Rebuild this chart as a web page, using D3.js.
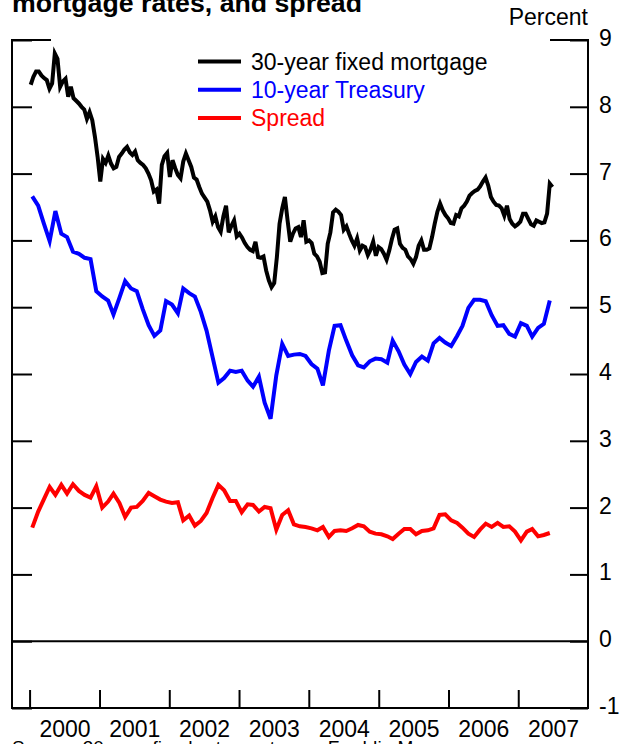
<!DOCTYPE html>
<html>
<head>
<meta charset="utf-8">
<script src="https://cdn.jsdelivr.net/npm/d3@7"></script>
<style>
  body { margin: 0; background: #fff; }
  svg { display: block; font-family: "Liberation Sans", Arial, sans-serif; }
</style>
</head>
<body>
<svg id="chart" width="630" height="744"></svg>
<script>
// 30-year fixed mortgage, every two weeks from 2000-01-07
const mortgage_start = '2000-01-07'
const mortgage = [
  8.33, 8.45, 8.53, 8.53, 8.47, 8.43, 8.40, 8.27, 8.35, 8.80, 8.72, 8.30, 8.38, 8.42, 8.15, 8.30,
  8.13, 8.09, 8.05, 8.00, 7.96, 7.82, 7.92, 7.80, 7.55, 7.25, 6.88, 7.22, 7.16, 7.27, 7.15, 7.08,
  7.10, 7.25, 7.30, 7.36, 7.40, 7.32, 7.28, 7.33, 7.20, 7.16, 7.13, 7.08, 7.00, 6.90, 6.73, 6.76,
  6.55, 7.13, 7.26, 7.31, 6.95, 7.20, 7.08, 6.98, 6.93, 7.18, 7.30, 7.20, 7.10, 6.94, 6.91, 6.80,
  6.70, 6.64, 6.58, 6.45, 6.28, 6.36, 6.20, 6.13, 6.36, 6.52, 6.12, 6.22, 6.30, 6.06, 6.10, 6.04,
  5.96, 5.90, 5.86, 5.84, 5.98, 5.75, 5.74, 5.76, 5.55, 5.40, 5.30, 5.36, 5.75, 6.25, 6.48, 6.65,
  6.30, 5.98, 6.10, 6.18, 6.20, 6.05, 6.30, 5.98, 6.00, 5.96, 5.80, 5.76, 5.68, 5.51, 5.52, 5.95,
  6.12, 6.42, 6.46, 6.43, 6.38, 6.16, 6.21, 6.10, 6.00, 5.92, 6.03, 5.85, 5.92, 5.90, 5.78, 5.86,
  5.98, 5.77, 5.90, 5.87, 5.80, 5.71, 5.85, 6.02, 6.16, 6.18, 5.95, 5.89, 5.86, 5.76, 5.72, 5.65,
  5.75, 5.92, 6.00, 5.86, 5.86, 5.88, 6.05, 6.25, 6.43, 6.55, 6.45, 6.38, 6.33, 6.26, 6.25, 6.38,
  6.36, 6.48, 6.52, 6.58, 6.67, 6.71, 6.74, 6.76, 6.81, 6.88, 6.94, 6.82, 6.65, 6.58, 6.53, 6.52,
  6.48, 6.37, 6.52, 6.32, 6.25, 6.21, 6.24, 6.28, 6.40, 6.40, 6.32, 6.24, 6.22, 6.30, 6.28, 6.26,
  6.27, 6.40, 6.85, 6.80
]

// monthly, Jan 2000 - Jun 2007
const treasury = [
  6.66, 6.52, 6.26, 5.99, 6.44, 6.10, 6.05, 5.83, 5.80, 5.74, 5.72, 5.24,
  5.16, 5.10, 4.89, 5.14, 5.39, 5.28, 5.24, 4.97, 4.73, 4.57, 4.65, 5.09,
  5.04, 4.91, 5.28, 5.21, 5.16, 4.93, 4.65, 4.26, 3.87, 3.94, 4.05, 4.03,
  4.05, 3.90, 3.81, 3.96, 3.57, 3.33, 3.98, 4.45, 4.27, 4.29, 4.30, 4.27,
  4.15, 4.08, 3.83, 4.35, 4.72, 4.73, 4.50, 4.28, 4.13, 4.10, 4.19, 4.23,
  4.22, 4.17, 4.50, 4.34, 4.14, 4.00, 4.18, 4.26, 4.20, 4.46, 4.54, 4.47,
  4.42, 4.57, 4.72, 4.99, 5.11, 5.11, 5.09, 4.88, 4.72, 4.73, 4.60, 4.56,
  4.76, 4.72, 4.56, 4.69, 4.75, 5.10
]

const spread = [
  1.70, 1.94, 2.12, 2.31, 2.19, 2.34, 2.21, 2.35, 2.25, 2.19, 2.15, 2.32,
  2.00, 2.09, 2.21, 2.07, 1.86, 2.00, 2.01, 2.10, 2.22, 2.17, 2.12, 2.09,
  2.07, 2.08, 1.81, 1.88, 1.73, 1.80, 1.92, 2.14, 2.34, 2.26, 2.10, 2.10,
  1.93, 2.05, 2.04, 1.94, 2.01, 1.99, 1.67, 1.89, 1.96, 1.75, 1.72, 1.71,
  1.69, 1.66, 1.71, 1.56, 1.65, 1.66, 1.65, 1.69, 1.74, 1.72, 1.64, 1.61,
  1.60, 1.57, 1.53, 1.61, 1.68, 1.68, 1.60, 1.65, 1.66, 1.69, 1.89, 1.90,
  1.81, 1.77, 1.70, 1.61, 1.56, 1.67, 1.76, 1.71, 1.77, 1.71, 1.72, 1.64,
  1.51, 1.64, 1.68, 1.57, 1.59, 1.62
]

const years = [2000, 2001, 2002, 2003, 2004, 2005, 2006, 2007]
const y_ticks = [-1, 0, 1, 2, 3, 4, 5, 6, 7, 8, 9]
const legend_items = [
  { name: '30-year fixed mortgage', color: '#000000' },
  { name: '10-year Treasury', color: '#0000ff' },
  { name: 'Spread', color: '#ff0000' }
]

const svg = d3.select('#chart')
const x0 = 12, x1 = 588, y0 = 40, y1 = 708
const fs = 23

const x = d3.scaleTime()
  .domain([new Date(1999, 9, 1), new Date(2008, 0, 1)])
  .range([x0, x1])
const y = d3.scaleLinear().domain([-1, 9]).range([y1, y0])

const start = d3.timeParse('%Y-%m-%d')(mortgage_start)
const mortgage_data = mortgage.map((v, i) => ({ d: d3.timeDay.offset(start, i * 14), v }))
const month_date = i => new Date(2000, i, 15)
const treasury_data = treasury.map((v, i) => ({ d: month_date(i), v }))
const spread_data = spread.map((v, i) => ({ d: month_date(i), v }))

// title and units, cut at the top of the picture
svg.append('text')
  .attr('x', 12).attr('y', 12)
  .attr('font-size', 26.7).attr('font-weight', 'bold')
  .text('mortgage rates, and spread')

svg.append('text')
  .attr('x', x1).attr('y', 25)
  .attr('text-anchor', 'end').attr('font-size', fs)
  .text('Percent')

// frame
const frame = svg.append('g').attr('stroke', '#000').attr('stroke-width', 2).attr('fill', 'none')
frame.append('path').attr('d', `M${x0 + 39},${y0}H${x0}V${y1}H${x1}V${y0}H${x1 - 38}`)
frame.append('line')
  .attr('x1', x0).attr('x2', x1)
  .attr('y1', y(0)).attr('y2', y(0))

// left ticks, no labels
svg.append('g')
  .attr('transform', `translate(${x0},0)`)
  .call(d3.axisLeft(y).tickValues(y_ticks).tickSizeInner(-20).tickSizeOuter(0).tickFormat(''))
  .call(g => g.select('.domain').remove())
  .call(g => g.selectAll('line').attr('stroke-width', 2))

// right ticks with labels
svg.append('g')
  .attr('transform', `translate(${x1},0)`)
  .call(d3.axisRight(y).tickValues(y_ticks).tickSizeInner(-18).tickSizeOuter(0).tickPadding(11))
  .call(g => g.select('.domain').remove())
  .call(g => g.selectAll('line').attr('stroke-width', 2))
  .call(g => g.selectAll('text')
    .attr('font-family', null).attr('font-size', fs).attr('fill', '#000')
    .attr('dy', null).attr('y', 5.5)
    .text(d => d < 0 ? '-' + Math.abs(d) : d))

// year ticks
svg.append('g')
  .attr('transform', `translate(0,${y1})`)
  .call(d3.axisBottom(x).tickValues(years.map(yr => new Date(yr, 0, 1))).tickSizeInner(-18).tickSizeOuter(0).tickFormat(''))
  .call(g => g.select('.domain').remove())
  .call(g => g.selectAll('line').attr('stroke-width', 2))

// year labels at mid-year
svg.append('g')
  .attr('transform', `translate(0,${y1})`)
  .call(d3.axisBottom(x).tickValues(years.map(yr => new Date(yr, 6, 2))).tickSize(0).tickPadding(12.5).tickFormat(d3.timeFormat('%Y')))
  .call(g => g.select('.domain').remove())
  .call(g => g.selectAll('text').attr('font-family', null).attr('font-size', fs).attr('fill', '#000'))

// series
const line = d3.line().x(p => x(p.d)).y(p => y(p.v))
const series = [
  { data: mortgage_data, color: '#000000' },
  { data: treasury_data, color: '#0000ff' },
  { data: spread_data, color: '#ff0000' }
]
svg.append('g').selectAll('path')
  .data(series)
  .enter()
  .append('path')
  .attr('d', s => line(s.data))
  .attr('fill', 'none')
  .attr('stroke', s => s.color)
  .attr('stroke-width', 4)
  .attr('stroke-linejoin', 'miter')

// legend
const legend = svg.append('g').selectAll('g')
  .data(legend_items)
  .enter()
  .append('g')
  .attr('transform', (d, i) => `translate(198,${61.5 + i * 28.3})`)
legend.append('line')
  .attr('x1', 0).attr('x2', 43)
  .attr('stroke', d => d.color).attr('stroke-width', 4)
legend.append('text')
  .attr('x', 53).attr('y', 8)
  .attr('font-size', fs)
  .attr('fill', d => d.color)
  .text(d => d.name)

// source note, cut at the bottom of the picture
svg.append('text')
  .attr('x', 12).attr('y', 754)
  .attr('font-size', 19)
  .text('Source: 30-year fixed-rate mortgage, Freddie Mac')
</script>
</body>
</html>
